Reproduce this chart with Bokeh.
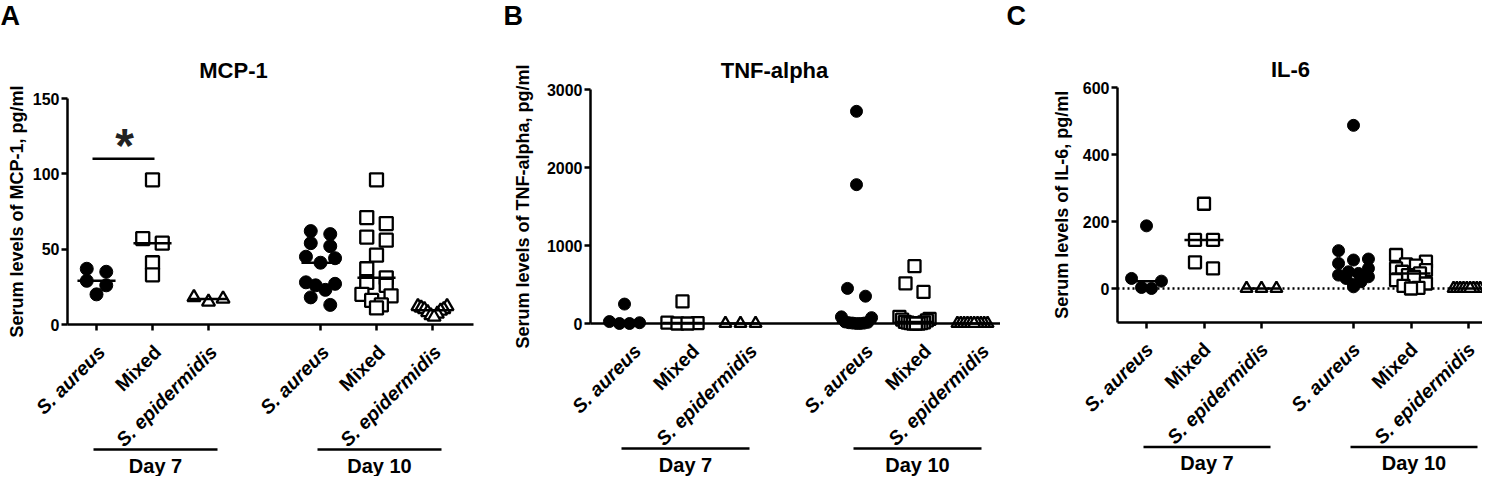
import math
import numpy as np
from bokeh.plotting import figure
from bokeh.layouts import row
from bokeh.models import ColumnDataSource, FixedTicker, Range1d, LinearAxis
from bokeh.core.properties import value
from bokeh.embed import file_html
from bokeh.resources import INLINE

FONT = "Liberation Sans"

# ---------------- data ----------------
groups = ["S. aureus", "Mixed", "S. epidermidis", "S. aureus", "Mixed", "S. epidermidis"]
group_style = ["bold italic", "bold", "bold italic", "bold italic", "bold", "bold italic"]
group_marker = ["circle", "square", "triangle", "circle", "square", "triangle"]
day_labels = ["Day 7", "Day 10"]

panel_letters = ["A", "B", "C"]
titles = ["MCP-1", "TNF-alpha", "IL-6"]
y_titles = ["Serum levels of MCP-1, pg/ml",
            "Serum levels of TNF-alpha, pg/ml",
            "Serum levels of IL-6, pg/ml"]
yticks_mcp1 = [0, 50, 100, 150]
yticks_tnf = [0, 1000, 2000, 3000]
yticks_il6 = [0, 200, 400, 600]

mcp1_d7_aureus = [37, 35, 29, 26, 20]
mcp1_d7_mixed = [96, 57, 54, 41, 33]
mcp1_d7_epi = [18, 17, 15]
mcp1_d10_aureus = [62, 60, 54, 52, 45, 44, 41, 28, 27, 26, 23, 18, 13]
mcp1_d10_mixed = [96, 71, 67, 58, 56, 46, 37, 31, 28, 26, 20, 19, 16, 13, 11]
mcp1_d10_epi = [12, 12, 11, 10, 10, 9, 8, 7, 6, 5]
mcp1_sig_y = 110

tnf_d7_aureus = [249, 25, 10, 0, 0]
tnf_d7_mixed = [283, 10, 5, 0, 0]
tnf_d7_epi = [0, 0, 0]
tnf_d10_aureus = [2720, 1780, 450, 350, 85, 75, 20, 15, 10, 5, 5, 0, 0]
tnf_d10_mixed = [735, 515, 405, 85, 60, 50, 40, 20, 15, 10, 5, 5, 0, 0, 0]
tnf_d10_epi = [0, 0, 0, 0, 0, 0, 0, 0, 0, 0]

il6_d7_aureus = [187, 30, 22, 3, 0]
il6_d7_mixed = [253, 145, 145, 78, 60]
il6_d7_epi = [0, 0, 0]
il6_d10_aureus = [487, 113, 88, 85, 75, 60, 50, 45, 40, 35, 30, 20, 12, 5]
il6_d10_mixed = [100, 80, 72, 68, 60, 55, 50, 45, 40, 35, 25, 15, 8, 2, 0]
il6_d10_epi = [0, 0, 0, 0, 0, 0, 0, 0, 0, 0]

# ---------------- layout (reference pixels) ----------------
FIG_H = 476
VSHIFT = 5                      # figure row starts at reference y = 5
TOP_REF, BOT_REF = VSHIFT, VSHIFT + FIG_H
LABEL_SIZE = "19.5px"
LABEL_DY = 24

LAYOUT_A = dict(fig_left=0, width=500, axis_px=67, tick0=96, step=56,
                pos=[0, 5, 10, 20, 25, 30], xend=473, hi=(150, 103), lo=(0, 329),
                base=0, ticks=True, msize=13, title_px=(233, 75), letter_px=0,
                ytitle_off=51, zero_line=False, label_dx=5)
LAYOUT_B = dict(fig_left=500, width=500, axis_px=590, tick0=624, step=58,
                pos=[0, 5, 10, 20, 25, 30], xend=1000, hi=(3000, 94), lo=(0, 328),
                base=0, ticks=False, msize=12, title_px=(774, 75), letter_px=503,
                ytitle_off=68, zero_line=False, label_dx=13)
LAYOUT_C = dict(fig_left=1000, width=482, axis_px=1117, tick0=1146, step=57.5,
                pos=[0, 5, 10, 18, 23, 28], xend=1482, hi=(600, 92), lo=(0, 293),
                base=-100, ticks=True, msize=12, title_px=(1290, 74), letter_px=1006,
                ytitle_off=56, zero_line=True, label_dx=3)


def swarm_offsets(vals, ppu, diam, max_half):
    """Prism-like row arrangement (V-shaped rows): horizontal offsets in px."""
    n = len(vals)
    order = sorted(range(n), key=lambda i: -vals[i])
    rows, cur = [], []
    for i in order:
        if cur and (vals[cur[0]] - vals[i]) * ppu > 0.9 * diam:
            rows.append(cur)
            cur = []
        cur.append(i)
    rows.append(cur)
    offs = [0.0] * n
    for r in rows:
        k = len(r)
        stp = 1.5 * diam
        if k > 1 and (k - 1) * stp > 2 * max_half:
            stp = 2 * max_half / (k - 1)
        slots = [(j - (k - 1) / 2) * stp for j in range(k)]
        seq = []
        lo, hi = 0, k - 1
        while lo <= hi:
            seq.append(lo)
            if hi != lo:
                seq.append(hi)
            lo += 1
            hi -= 1
        for j, i in enumerate(r):
            offs[i] = slots[seq[j]]
    return offs


def style_axis(ax, size):
    ax.axis_line_width = 2.5
    ax.axis_line_color = "black"
    ax.major_tick_line_width = 2.5
    ax.major_tick_line_color = "black"
    ax.major_tick_out = 6
    ax.major_tick_in = 0
    ax.minor_tick_line_color = None
    ax.major_label_text_font = FONT
    ax.major_label_text_font_size = size
    ax.major_label_text_font_style = "bold"
    ax.major_label_text_color = "black"


def make_panel(L, data, yticks, ytitle, title, letter, sig_y=None):
    W = L["width"]
    fr_left = L["fig_left"]
    fr_right = L["fig_left"] + W
    u = L["step"] / 5.0
    pos = L["pos"]

    def X(px):
        return (px - L["tick0"]) / u

    (vh, ph), (vl, pl) = L["hi"], L["lo"]
    ppu = (pl - ph) / (vh - vl)

    def Y(py):
        return vl + (pl - py) / ppu

    def PY(v):
        return pl - (v - vl) * ppu

    p = figure(width=W, height=FIG_H,
               x_range=Range1d(X(fr_left), X(fr_right)),
               y_range=Range1d(Y(BOT_REF), Y(TOP_REF)),
               x_axis_location=None, y_axis_location=None,
               output_backend="svg", toolbar_location=None,
               min_border_left=0, min_border_right=0,
               min_border_top=0, min_border_bottom=0)
    p.outline_line_color = None
    p.grid.visible = False
    p.background_fill_color = "white"

    base = L["base"]
    py_base = PY(base)
    x_left, x_right = X(L["axis_px"]), X(L["xend"])

    # y axis (real axis, fixed at the left end of the x axis)
    yax = LinearAxis(fixed_location=x_left, ticker=FixedTicker(ticks=yticks),
                     bounds=(base, yticks[-1]))
    style_axis(yax, "16px")
    yax.major_label_standoff = 2
    p.add_layout(yax, "left")

    # x axis: line and ticks (labels drawn as rotated text below)
    xax = LinearAxis(fixed_location=base, ticker=FixedTicker(ticks=pos),
                     bounds=(x_left, x_right),
                     major_label_overrides={pp: "" for pp in pos})
    style_axis(xax, "16px")
    if not L["ticks"]:
        xax.major_tick_line_color = None
    p.add_layout(xax, "below")

    if L["zero_line"]:
        p.segment(x0=[x_left], x1=[x_right], y0=[0], y1=[0],
                  line_color="black", line_width=2.5, line_dash="2 3")

    diam = L["msize"]
    for g, vals in enumerate(data):
        offs = swarm_offsets(vals, ppu, diam, 0.26 * L["step"])
        xs = [pos[g] + o / u for o in offs]
        src = ColumnDataSource(dict(x=xs, y=vals))
        mk = group_marker[g]
        if mk == "circle":
            p.scatter("x", "y", source=src, marker="circle", size=diam,
                      fill_color="black", line_color="black", line_width=1)
        else:
            p.scatter("x", "y", source=src, marker=mk, size=diam,
                      fill_color="white", line_color="black", line_width=2.3)
        med = float(np.median(vals))
        p.segment(x0=[pos[g] - 1.7], x1=[pos[g] + 1.7], y0=[med], y1=[med],
                  line_color="black", line_width=2.5)

    # category labels (rotated 45 degrees, right end under the tick)
    lab = ColumnDataSource(dict(
        x=[pp + L["label_dx"] / u for pp in pos],
        y=[Y(py_base + LABEL_DY)] * len(pos),
        text=groups, style=group_style))
    p.text(x="x", y="y", text="text", source=lab, angle=math.pi / 4,
           text_font=value(FONT), text_font_size=LABEL_SIZE,
           text_font_style="style", text_align="right", text_baseline="middle",
           text_color="black")

    # day bars
    for k, dl in enumerate(day_labels):
        a, b = pos[3 * k] - 3 / u, pos[3 * k + 2] + 9 / u
        yb = Y(py_base + 125)
        p.segment(x0=[a], x1=[b], y0=[yb], y1=[yb], line_color="black", line_width=2.5)
        p.text(x=[(a + b) / 2], y=[Y(py_base + 141)], text=[dl],
               text_font=value(FONT), text_font_size="20px", text_font_style="bold",
               text_align="center", text_baseline="middle", text_color="black")

    # title
    tx, ty = L["title_px"]
    p.text(x=[X(tx)], y=[Y(ty)], text=[title], text_font=value(FONT),
           text_font_size="22px", text_font_style="bold",
           text_align="center", text_baseline="middle", text_color="black")

    # panel letter
    p.text(x=[X(L["letter_px"])], y=[Y(TOP_REF)], text=[letter], text_font=value(FONT),
           text_font_size="27px", text_font_style="bold",
           text_align="left", text_baseline="top", text_color="black")

    # y title
    p.text(x=[X(L["axis_px"] - L["ytitle_off"])], y=[(base + yticks[-1]) / 2],
           text=[ytitle], angle=math.pi / 2,
           text_font=value(FONT), text_font_size="18px", text_font_style="bold",
           text_align="center", text_baseline="middle", text_color="black")

    if sig_y is not None:
        p.segment(x0=[pos[0] - 4 / u], x1=[pos[1] + 2 / u], y0=[sig_y], y1=[sig_y],
                  line_color="black", line_width=2.5)
        p.text(x=[(pos[0] + pos[1]) / 2], y=[Y(PY(sig_y) - 13)], text=["*"],
               text_font=value(FONT), text_font_size="48px", text_font_style="bold",
               text_align="center", text_baseline="alphabetic", text_color="#222222")
    return p


pA = make_panel(LAYOUT_A, [mcp1_d7_aureus, mcp1_d7_mixed, mcp1_d7_epi,
                           mcp1_d10_aureus, mcp1_d10_mixed, mcp1_d10_epi],
                yticks_mcp1, y_titles[0], titles[0], panel_letters[0], sig_y=mcp1_sig_y)
pB = make_panel(LAYOUT_B, [tnf_d7_aureus, tnf_d7_mixed, tnf_d7_epi,
                           tnf_d10_aureus, tnf_d10_mixed, tnf_d10_epi],
                yticks_tnf, y_titles[1], titles[1], panel_letters[1])
pC = make_panel(LAYOUT_C, [il6_d7_aureus, il6_d7_mixed, il6_d7_epi,
                           il6_d10_aureus, il6_d10_mixed, il6_d10_epi],
                yticks_il6, y_titles[2], titles[2], panel_letters[2])

layout = row(pA, pB, pC)
open("out.html", "w").write(file_html(layout, INLINE))
